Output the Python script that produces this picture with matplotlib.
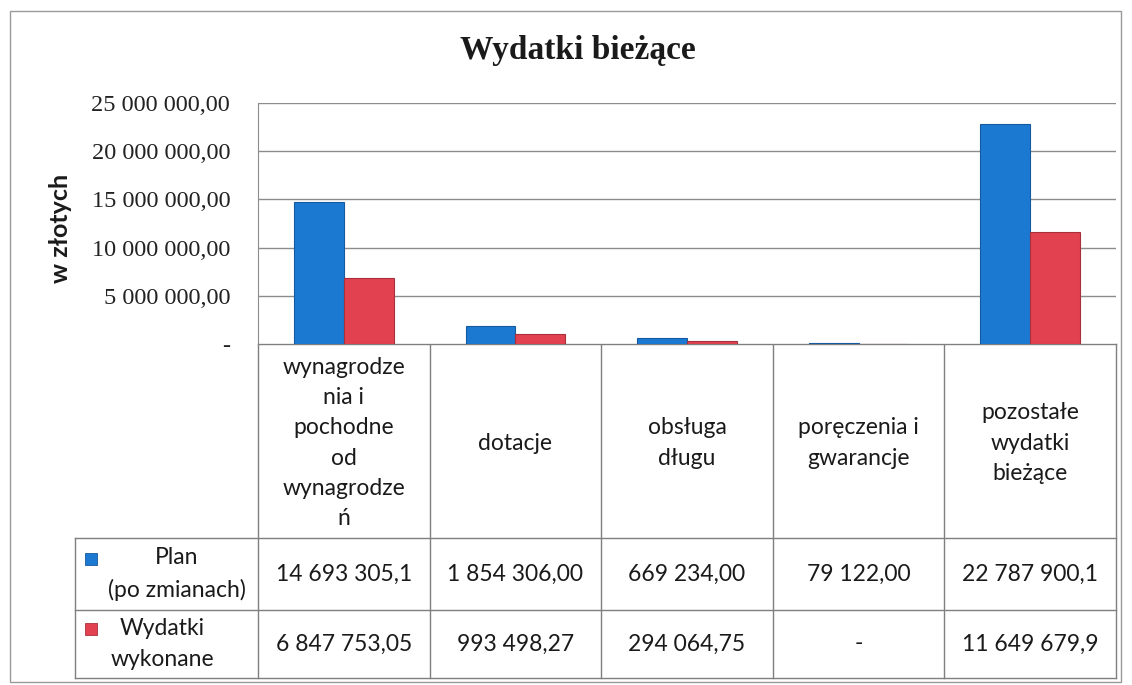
import matplotlib.pyplot as plt
import numpy as np
from matplotlib.patches import Rectangle
from matplotlib.ticker import FuncFormatter

categories = ["wynagrodze\nnia i\npochodne\nod\nwynagrodze\nń", "dotacje",
              "obsługa\ndługu", "poręczenia i\ngwarancje", "pozostałe\nwydatki\nbieżące"]
plan = [14693305.1, 1854306.00, 669234.00, 79122.00, 22787900.1]
wykonane = [6847753.05, 993498.27, 294064.75, 0.0, 11649679.9]
plan_labels = ["14 693 305,1", "1 854 306,00", "669 234,00", "79 122,00", "22 787 900,1"]
wykonane_labels = ["6 847 753,05", "993 498,27", "294 064,75", "-", "11 649 679,9"]
series = ["Plan\n(po zmianach)", "Wydatki\nwykonane"]
colors = ["#1c79d2", "#e2424f"]
edges = ["#15599e", "#a8303c"]

W, H = 1132, 685
serif = "Liberation Serif"
sans = "Lato"
grid_col = "#8c8c8c"
txt = "#1a1a1a"

fig = plt.figure(figsize=(W / 100, H / 100), dpi=100)

# chart area
left, right, top, bottom = 258, 1116, 103, 344
ax = fig.add_axes([left / W, 1 - bottom / H, (right - left) / W, (bottom - top) / H])
x = np.arange(len(categories))
bw = 0.29
ax.bar(x - bw / 2, plan, bw, color=colors[0], edgecolor=edges[0], lw=0.8, zorder=3)
ax.bar(x + bw / 2, wykonane, bw, color=colors[1], edgecolor=edges[1], lw=0.8, zorder=3)
ax.set_xlim(-0.5, len(categories) - 0.5)
ax.set_ylim(0, 25e6)
ax.set_yticks(np.arange(0, 25e6 + 1, 5e6))


def fmt(v, pos):
    if v == 0:
        return "-"
    return "{:,.2f}".format(v).replace(",", " ").replace(".", ",")


ax.yaxis.set_major_formatter(FuncFormatter(fmt))
ax.yaxis.grid(True, color=grid_col, lw=1)
ax.set_axisbelow(True)
ax.set_xticks([])
ax.tick_params(axis="y", length=0, pad=20)
for lab in ax.get_yticklabels():
    lab.set_fontfamily(serif)
    lab.set_fontsize(17.5)
    lab.set_color("#222222")
for s in ["top", "right", "bottom"]:
    ax.spines[s].set_visible(False)
ax.spines["left"].set_color(grid_col)

fig.text(60 / W, 1 - 228 / H, "w złotych", rotation=90, family=sans,
         fontweight="bold", fontsize=18, ha="center", va="center", color=txt)
fig.text(578 / W, 1 - 50 / H, "Wydatki bieżące", family=serif,
         fontweight="bold", fontsize=24, ha="center", va="center", color=txt)

# data table below the chart
tab = fig.add_axes([0, 0, 1, 1], zorder=-1)
tab.set_xlim(0, W)
tab.set_ylim(H, 0)
tab.axis("off")
colw = (right - left) / len(categories)
col_x = [left + i * colw for i in range(len(categories) + 1)]
row_y = [bottom, 538, 610, 678]
head_x = 75
lc = "#7f7f7f"
tab.plot([left, right], [bottom, bottom], color=lc, lw=1)
for yy in row_y[1:]:
    tab.plot([head_x, right], [yy, yy], color=lc, lw=1)
for xx in col_x:
    tab.plot([xx, xx], [bottom, row_y[-1]], color=lc, lw=1)
tab.plot([head_x, head_x], [row_y[1], row_y[-1]], color=lc, lw=1)

for i, cat in enumerate(categories):
    cx = col_x[i] + colw / 2
    tab.text(cx, (row_y[0] + row_y[1]) / 2 + 2, cat, ha="center", va="center",
             family=sans, fontsize=16.5, linespacing=1.55, color=txt)
    tab.text(cx, (row_y[1] + row_y[2]) / 2, plan_labels[i], ha="center", va="center",
             family=sans, fontsize=16.5, color=txt)
    tab.text(cx, (row_y[2] + row_y[3]) / 2, wykonane_labels[i], ha="center", va="center",
             family=sans, fontsize=16.5, color=txt)

head_cx = [177, 162]
for r, name in enumerate(series):
    cy = (row_y[r + 1] + row_y[r + 2]) / 2
    tab.add_patch(Rectangle((85, cy - 21), 12, 12, facecolor=colors[r],
                            edgecolor=edges[r], lw=0.6))
    tab.text(head_cx[r], cy, name, ha="center", va="center", family=sans,
             fontsize=16.5, linespacing=1.6, color=txt)

# outer frame of the chart object
tab.add_patch(Rectangle((10, 11), 1111, 671, fill=False, edgecolor="#9a9a9a", lw=1))

fig.savefig("out.png", dpi=100, facecolor="white")
